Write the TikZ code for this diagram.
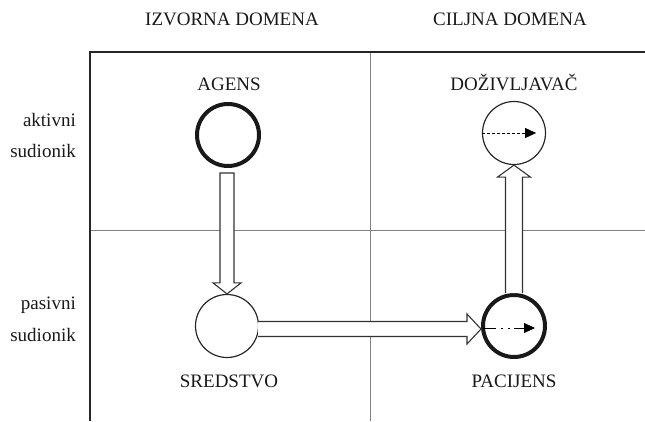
\documentclass[tikz,border=0pt]{standalone}
\usepackage{fontspec}
\setmainfont{Liberation Serif}
\usetikzlibrary{calc,arrows.meta}
\begin{document}
\begin{tikzpicture}[x=1pt,y=-1pt,
  lbl/.style={font=\fontsize{19}{22}\selectfont, text=black!90, inner sep=0pt, anchor=base},
  side/.style={font=\fontsize{19}{22}\selectfont, text=black!90, inner sep=0pt, anchor=base east},
  thickc/.style={circle, draw=black!90, line width=4pt, minimum size=62pt, inner sep=0pt},
  thinc/.style={circle, draw=black!85, line width=1.2pt, minimum size=63pt, inner sep=0pt},
  block/.style={draw=black!80, line width=1.1pt, fill=white, line join=miter},
  frame/.style={draw=black!85, line width=1.6pt},
  grid/.style={draw=black!50, line width=0.9pt},
  tipa/.style={-{Triangle[length=11pt,width=10pt]}, line width=0.9pt, black}]
\useasboundingbox (0,0) rectangle (645,421);
% grid
\draw[grid] (90,230) -- (645,230);
\draw[grid] (370,52) -- (370,421);
\draw[frame] (90,421) -- (90,52) -- (645,52);
% headings
\node[lbl] (izv) at (232,25) {IZVORNA DOMENA};
\node[lbl] (cil) at (510,25) {CILJNA DOMENA};
\node[side] (akt) at (76,126) {aktivni};
\node[side] (sud1) at (76,157) {sudionik};
\node[side] (pas) at (76,309) {pasivni};
\node[side] (sud2) at (76,341) {sudionik};
% circles
\node[thickc] (agens) at (228,135) {};
\node[thinc] (dozi) at (514,133) {};
\node[thinc] (sred) at (227,326) {};
\node[thickc] (pac) at (514,326) {};
% labels
\node[lbl] (agensl) at (229,90) {AGENS};
\node[lbl] (dozil) at (514,90) {DOŽIVLJAVAČ};
\node[lbl] (sredl) at (229,387) {SREDSTVO};
\node[lbl] (pacl) at (514,387) {PACIJENS};
% block arrow agens -> sredstvo
\draw[block] ($(sred.north|-agens.south)+(-7,5)$) -- ($(sred.north)+(-7,-11)$)
  -- ($(sred.north)+(-14,-11)$) -- (sred.north) -- ($(sred.north)+(14,-11)$)
  -- ($(sred.north)+(7,-11)$) -- ($(sred.north|-agens.south)+(7,5)$) -- cycle;
% block arrow sredstvo -> pacijens
\coordinate (htip) at ($(pac.west)+(0,3)$);
\draw[block] ($(sred.east|-htip)+(-1,-7.5)$) -- ($(htip)+(-14,-7.5)$)
  -- ($(htip)+(-14,-15)$) -- (htip) -- ($(htip)+(-14,15)$)
  -- ($(htip)+(-14,7.5)$) -- ($(sred.east|-htip)+(-1,7.5)$);
% block arrow pacijens -> dozivljavac
\draw[block] ($(dozi.south|-pac.north)+(-8.5,0)$) -- ($(dozi.south)+(-8.5,12)$)
  -- ($(dozi.south)+(-16.5,12)$) -- (dozi.south) -- ($(dozi.south)+(16.5,12)$)
  -- ($(dozi.south)+(8.5,12)$) -- ($(dozi.south|-pac.north)+(8.5,0)$);
% inner arrows
\draw[tipa, dash pattern=on 3pt off 2pt] (dozi.west) -- ($(dozi.east)+(-10,0)$);
\draw[tipa, dash pattern=on 13pt off 5pt on 2pt off 5pt on 2pt off 4pt on 40pt] ($(pac.west)+(2,2)$) -- ($(pac.east)+(-12,2)$);
\end{tikzpicture}
\end{document}
